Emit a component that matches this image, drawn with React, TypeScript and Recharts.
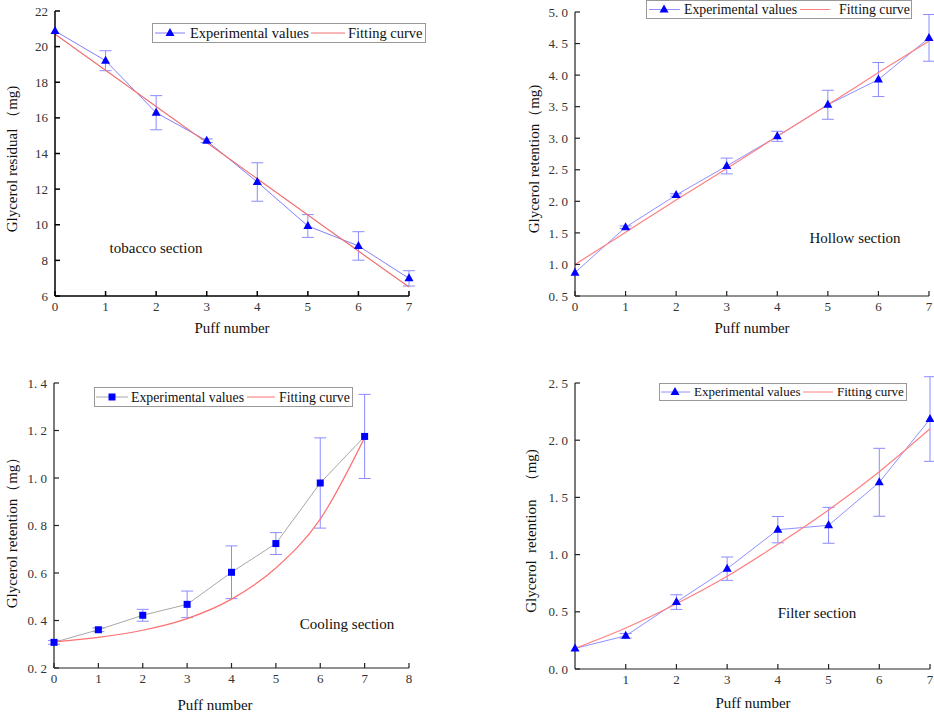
import { LineChart, Line, XAxis, YAxis, ErrorBar } from 'recharts';

// puff index shared by all four sections
const puffs = [0, 1, 2, 3, 4, 5, 6, 7];

// tobacco section (residual)
const tobaccoExp = [20.88, 19.21, 16.29, 14.72, 12.4, 9.93, 8.81, 6.99];
const tobaccoErr = [0, 0.56, 0.96, 0.1, 1.08, 0.64, 0.8, 0.43];
const tobaccoFit = [20.7, 18.67, 16.64, 14.61, 12.58, 10.55, 8.52, 6.5];

// hollow section (retention)
const hollowExp = [0.87, 1.59, 2.1, 2.56, 3.03, 3.53, 3.93, 4.59];
const hollowErr = [0, 0.02, 0.02, 0.125, 0.08, 0.23, 0.27, 0.37];
const hollowFit = [1.0, 1.51, 2.02, 2.52, 3.03, 3.53, 4.04, 4.54];

// cooling section
const coolingExp = [0.308, 0.361, 0.422, 0.468, 0.603, 0.724, 0.979, 1.175];
const coolingErr = [0.008, 0.008, 0.025, 0.056, 0.111, 0.046, 0.19, 0.177];
const coolingFit = [0.31, 0.329, 0.359, 0.408, 0.49, 0.621, 0.827, 1.17];

// filter section
const filterExp = [0.18, 0.29, 0.585, 0.877, 1.218, 1.256, 1.632, 2.185];
const filterErr = [0, 0.02, 0.064, 0.102, 0.115, 0.157, 0.297, 0.37];
const filterFit = [0.18, 0.358, 0.57, 0.81, 1.09, 1.39, 1.725, 2.1];

const tobaccoTicks = [6, 8, 10, 12, 14, 16, 18, 20, 22];
const hollowTicks = [0.5, 1.0, 1.5, 2.0, 2.5, 3.0, 3.5, 4.0, 4.5, 5.0];
const coolingTicks = [0.2, 0.4, 0.6, 0.8, 1.0, 1.2, 1.4];
const filterTicks = [0, 0.5, 1.0, 1.5, 2.0, 2.5];

const xTicks07 = [0, 1, 2, 3, 4, 5, 6, 7];
const xTicks08 = [0, 1, 2, 3, 4, 5, 6, 7, 8];
const xTicks17 = [1, 2, 3, 4, 5, 6, 7];

const serif = '"Liberation Serif", "DejaVu Serif", serif';

const build = (exp: number[], err: number[], fit: number[]) =>
    puffs.map((x, i) => ({ x, exp: exp[i], err: err[i], fit: fit[i] }));

const fmtInt = (v: number) => String(v);
const fmtDec = (v: number) => v.toFixed(1).replace('.', '.\u00a0');

function Marker({ cx, cy, shape }: { cx: number; cy: number; shape: string }) {
    if (shape === 'square') {
        return <rect x={cx - 3.5} y={cy - 3.5} width={7} height={7} fill="#0000ff" />;
    }
    return <path d={`M${cx},${cy - 5} L${cx + 4.5},${cy + 3} L${cx - 4.5},${cy + 3} Z`} fill="#0000ff" />;
}

function Panel(props: any) {
    const {
        data, left, top, width, height, margin, xDomain, xTicks, yDomain, yTicks, yFmt,
        expColor, marker, fitColor, axisColor, axisWidth,
    } = props;
    const tickStyle = { fontFamily: serif, fontSize: 13, fill: '#333' };
    return (
        <div style={{ position: 'absolute', left, top }}>
            <LineChart width={width} height={height} data={data} margin={margin}>
                <XAxis
                    type="number"
                    dataKey="x"
                    domain={xDomain}
                    ticks={xTicks}
                    interval={0}
                    height={30}
                    tickSize={-5}
                    tickMargin={11}
                    axisLine={{ stroke: axisColor, strokeWidth: axisWidth }}
                    tickLine={{ stroke: axisColor, strokeWidth: axisWidth }}
                    tick={tickStyle}
                />
                <YAxis
                    type="number"
                    domain={yDomain}
                    ticks={yTicks}
                    interval={0}
                    width={45}
                    allowDataOverflow
                    tickSize={-5}
                    tickMargin={12}
                    tickFormatter={yFmt}
                    axisLine={{ stroke: axisColor, strokeWidth: axisWidth }}
                    tickLine={{ stroke: axisColor, strokeWidth: axisWidth }}
                    tick={tickStyle}
                />
                <Line
                    dataKey="exp"
                    type="linear"
                    stroke={expColor}
                    strokeWidth={1}
                    dot={(p: any) => <Marker key={p.index} cx={p.cx} cy={p.cy} shape={marker} />}
                    activeDot={false}
                    isAnimationActive={false}
                >
                    <ErrorBar dataKey="err" width={6} stroke="#8c8cff" strokeWidth={1} direction="y" />
                </Line>
                <Line
                    dataKey="fit"
                    type="monotone"
                    stroke={fitColor}
                    strokeWidth={1.2}
                    dot={false}
                    activeDot={false}
                    isAnimationActive={false}
                />
            </LineChart>
        </div>
    );
}

function LegendBox(props: any) {
    const { left, top, width, height, fontSize, expColor, marker, fitColor, pos } = props;
    const cy = height / 2;
    return (
        <svg style={{ position: 'absolute', left, top }} width={width} height={height}>
            <rect x={0.5} y={0.5} width={width - 1} height={height - 1} fill="#fff" stroke="#999" />
            <line x1={pos[0]} x2={pos[1]} y1={cy} y2={cy} stroke={expColor} />
            <Marker cx={pos[2]} cy={cy} shape={marker} />
            <text x={pos[3]} y={cy} dy="0.34em" fontFamily={serif} fontSize={fontSize} fill="#111">Experimental values</text>
            <line x1={pos[4]} x2={pos[5]} y1={cy} y2={cy} stroke={fitColor} />
            <text x={pos[6]} y={cy} dy="0.34em" fontFamily={serif} fontSize={fontSize} fill="#111">Fitting curve</text>
        </svg>
    );
}

function Note({ left, top, text, rotate }: { left: number; top: number; text: string; rotate?: boolean }) {
    return (
        <div
            style={{
                position: 'absolute',
                left,
                top,
                fontFamily: serif,
                fontSize: 15,
                color: '#111',
                whiteSpace: 'pre',
                lineHeight: 1,
                transform: rotate ? 'translate(-50%, -50%) rotate(-90deg)' : 'translate(-50%, -50%)',
            }}
        >
            {text}
        </div>
    );
}

export default function App() {
    return (
        <div style={{ position: 'absolute', left: 0, top: 0, width: 934, height: 713, background: '#fff', overflow: 'hidden' }}>
            <Panel
                data={build(tobaccoExp, tobaccoErr, tobaccoFit)}
                left={0} top={0} width={467} height={340}
                margin={{ top: 11, right: 58, bottom: 14, left: 10 }}
                xDomain={[0, 7]} xTicks={xTicks07}
                yDomain={[6, 22]} yTicks={tobaccoTicks} yFmt={fmtInt}
                expColor="#8080ff" marker="triangle" fitColor="#f07070"
                axisColor="#000" axisWidth={1.5}
            />
            <Panel
                data={build(hollowExp, hollowErr, hollowFit)}
                left={467} top={0} width={467} height={340}
                margin={{ top: 12, right: 5, bottom: 14, left: 63 }}
                xDomain={[0, 7]} xTicks={xTicks07}
                yDomain={[0.5, 5]} yTicks={hollowTicks} yFmt={fmtDec}
                expColor="#9090ff" marker="triangle" fitColor="#ff8080"
                axisColor="#222" axisWidth={1.2}
            />
            <Panel
                data={build(coolingExp, coolingErr, coolingFit)}
                left={0} top={360} width={467} height={353}
                margin={{ top: 23, right: 58, bottom: 15, left: 9 }}
                xDomain={[0, 8]} xTicks={xTicks08}
                yDomain={[0.2, 1.4]} yTicks={coolingTicks} yFmt={fmtDec}
                expColor="#a8a8a8" marker="square" fitColor="#ff7070"
                axisColor="#222" axisWidth={1.2}
            />
            <Panel
                data={build(filterExp, filterErr, filterFit)}
                left={467} top={360} width={467} height={353}
                margin={{ top: 23, right: 4, bottom: 14, left: 63 }}
                xDomain={[0, 7]} xTicks={xTicks17}
                yDomain={[0, 2.5]} yTicks={filterTicks} yFmt={fmtDec}
                expColor="#9090ff" marker="triangle" fitColor="#ff8080"
                axisColor="#222" axisWidth={1.2}
            />

            <LegendBox left={152} top={23} width={274} height={20} fontSize={14.5}
                expColor="#8080ff" marker="triangle" fitColor="#f07070"
                pos={[3, 33, 18, 38, 159, 193, 196]} />
            <LegendBox left={646} top={0} width={266} height={19} fontSize={13.8}
                expColor="#9090ff" marker="triangle" fitColor="#ff8080"
                pos={[3, 34, 18, 38, 154, 184, 193]} />
            <LegendBox left={94} top={387} width={259} height={20} fontSize={13.8}
                expColor="#a8a8a8" marker="square" fitColor="#ff7070"
                pos={[2, 34, 18, 37, 153, 181, 185]} />
            <LegendBox left={659} top={383} width={248} height={18} fontSize={13}
                expColor="#9090ff" marker="triangle" fitColor="#ff8080"
                pos={[2, 31, 16, 35, 144, 174, 178]} />

            <Note left={232} top={328} text="Puff number" />
            <Note left={752} top={328} text="Puff number" />
            <Note left={215} top={705} text="Puff number" />
            <Note left={753} top={703} text="Puff number" />

            <Note left={12} top={159} text="Glycerol residual （mg)" rotate />
            <Note left={534} top={159} text="Glycerol retention（mg)" rotate />
            <Note left={12} top={529} text="Glycerol retention（mg）" rotate />
            <Note left={531} top={531} text="Glycerol  retention   （mg)" rotate />

            <Note left={156} top={248} text="tobacco section" />
            <Note left={855} top={238} text="Hollow section" />
            <Note left={347} top={624} text="Cooling section" />
            <Note left={817} top={613} text="Filter section" />
        </div>
    );
}
